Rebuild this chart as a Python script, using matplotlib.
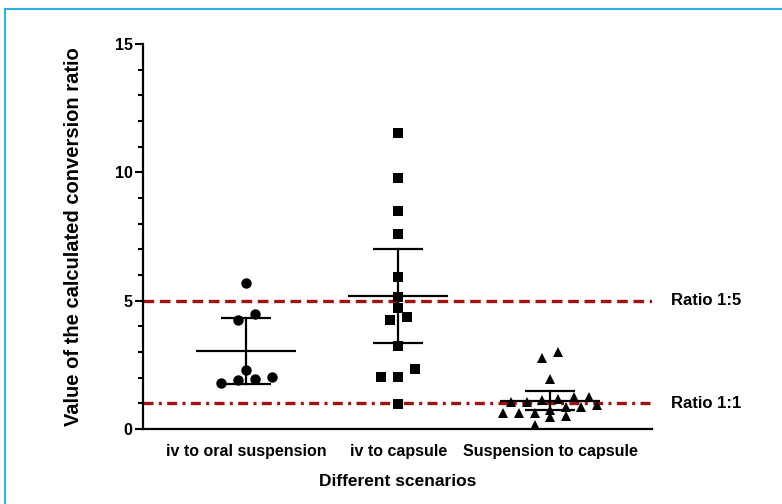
import numpy as np
import matplotlib
matplotlib.use("Agg")
import matplotlib.pyplot as plt
from matplotlib.lines import Line2D
import matplotlib.transforms as mtransforms

plt.rcParams['font.family'] = ['Liberation Sans', 'DejaVu Sans']
plt.rcParams['font.weight'] = 'bold'

# ---------------- data ----------------
categories = ["iv to oral suspension", "iv to capsule", "Suspension to capsule"]
iv_oral = [5.70, 4.25, 4.47, 2.29, 1.78, 2.01, 1.91, 1.95]
iv_capsule = [11.54, 9.77, 8.49, 7.58, 5.93, 5.13, 4.70, 4.25, 4.38, 3.23, 2.33, 2.01, 2.04, 0.97]
susp_capsule = [3.01, 2.75, 1.94, 1.26, 1.26, 1.16, 1.06, 1.13, 1.06, 0.93, 0.64, 0.74,
                0.87, 0.85, 0.51, 0.46, 0.64, 0.64, 0.16]
groups = [iv_oral, iv_capsule, susp_capsule]
markers = ['o', 's', '^']
ref_values = [5, 1]
ref_labels = ["Ratio 1:5", "Ratio 1:1"]
y_ticks = [0, 5, 10, 15]
# two-sided 95% t critical values by degrees of freedom
t_crit = {7: 2.365, 13: 2.160, 18: 2.101}

# ---------------- figure ----------------
W, H = 782, 504
fig = plt.figure(figsize=(W / 100, H / 100), dpi=100)
ax_l, ax_r, ax_t, ax_b = 143, 652, 44, 429
ax = fig.add_axes([ax_l / W, 1 - ax_b / H, (ax_r - ax_l) / W, (ax_b - ax_t) / H])

x_lo, x_hi = -0.68, 2.67
ax.set_xlim(x_lo, x_hi)
ax.set_ylim(0, 15)


def swarm_offsets(vals, row_h=0.4, step=0.112):
    vals = np.asarray(vals, float)
    order = np.argsort(vals, kind='stable')
    offs = np.zeros(len(vals))
    rows = []
    cur = []
    for i in order:
        if cur and vals[i] - vals[cur[0]] > row_h:
            rows.append(cur)
            cur = []
        cur.append(i)
    if cur:
        rows.append(cur)
    for r in rows:
        n = len(r)
        for k, i in enumerate(r):
            offs[i] = (k - (n - 1) / 2) * step
    return offs


steps = [0.112, 0.112, 0.103]
msizes = [7.5, 6.5, 7.5]
for gi, (vals, mk) in enumerate(zip(groups, markers)):
    offs = swarm_offsets(vals, step=steps[gi])
    ax.plot(gi + offs, vals, linestyle='none', marker=mk, markersize=msizes[gi],
            color='black', markeredgewidth=0, zorder=3, clip_on=False)
    v = np.asarray(vals)
    m = v.mean()
    n = len(v)
    half = t_crit[n - 1] * v.std(ddof=1) / np.sqrt(n)
    lw = 1.6
    ax.plot([gi - 0.33, gi + 0.33], [m, m], color='black', lw=lw, zorder=4, solid_capstyle='butt')
    ax.plot([gi - 0.165, gi + 0.165], [m + half, m + half], color='black', lw=lw, zorder=4, solid_capstyle='butt')
    ax.plot([gi - 0.165, gi + 0.165], [m - half, m - half], color='black', lw=lw, zorder=4, solid_capstyle='butt')
    ax.plot([gi, gi], [m - half, m + half], color='black', lw=lw, zorder=4)

red = '#a31212'
ax.axhline(ref_values[0], color=red, lw=2.4, linestyle=(0, (3.2, 1.7)), zorder=2)
ax.axhline(ref_values[1], color=red, lw=2.4, linestyle=(0, (3.0, 1.6, 0.9, 1.6)), zorder=2)

trans = mtransforms.blended_transform_factory(ax.transAxes, ax.transData)
for val, lab in zip(ref_values, ref_labels):
    ax.text((671 - ax_l) / (ax_r - ax_l), val, lab, transform=trans, ha='left', va='center',
            fontsize=12, fontweight='bold', color='black', clip_on=False)

# spines / ticks
for s in ['top', 'right']:
    ax.spines[s].set_visible(False)
for s in ['left', 'bottom']:
    ax.spines[s].set_linewidth(1.6)
    ax.spines[s].set_color('black')

ax.set_xticks(range(len(categories)))
ax.set_xticklabels(categories, fontsize=11.5, fontweight='bold')
ax.tick_params(axis='x', length=0, pad=11)

ax.set_yticks(y_ticks)
ax.set_yticklabels([str(t) for t in y_ticks], fontsize=11.5, fontweight='bold')
ax.set_yticks(np.arange(0, 16, 1), minor=True)
ax.tick_params(axis='y', which='major', direction='out', length=5.5, width=1.5, pad=2)
ax.tick_params(axis='y', which='minor', direction='out', length=3.5, width=1.5)

ax.set_ylabel("Value of the calculated conversion ratio", fontsize=14.5, fontweight='bold')
ax.yaxis.set_label_coords((83 - ax_l) / (ax_r - ax_l), 0.5)
ax.set_xlabel("Different scenarios", fontsize=12.5, fontweight='bold')
ax.xaxis.set_label_coords((398 - ax_l) / (ax_r - ax_l), (ax_b - 474) / (ax_b - ax_t))

# light blue frame at top and left
bc = '#2ab2e6'
fig.add_artist(Line2D([5 / W, 5 / W], [0, 1 - 9 / H], color=bc, lw=1.5, transform=fig.transFigure))
fig.add_artist(Line2D([5 / W, 1], [1 - 9 / H, 1 - 9 / H], color=bc, lw=1.5, transform=fig.transFigure))

fig.savefig("out.png", dpi=100, facecolor='white')
